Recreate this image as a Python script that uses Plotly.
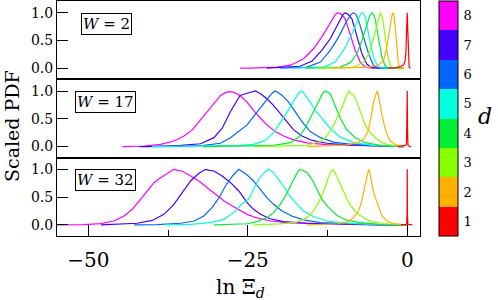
import plotly.graph_objects as go
from plotly.subplots import make_subplots

# ---------------- data ----------------
d_values = [1, 2, 3, 4, 5, 6, 7, 8]
d_colors = ["#ff0000", "#ffb000", "#88ff00", "#00ee33", "#00ffdd", "#0066ff", "#4400ff", "#ff00ff"]
panel_labels = ["2", "17", "32"]
x_tickvals = [-50, -25, 0]
y_tickvals = [0.0, 0.5, 1.0]

# W = 2
x_w2_d1 = [-3.0, -1.6, -1.0, -0.6, -0.35, -0.2, -0.08, 0.0, 0.08, 0.18, 0.3, 0.5]
y_w2_d1 = [0, 0.01, 0.03, 0.06, 0.12, 0.3, 0.75, 1.0, 0.7, 0.15, 0.02, 0]
x_w2_d2 = [-12.0, -8.0, -6.0, -5.0, -4.4, -3.7, -3.2, -2.9, -2.66, -2.4, -2.2, -2.05, -1.88, -1.6, -1.36, -1.0, -0.5]
y_w2_d2 = [0, 0.01, 0.02, 0.04, 0.07, 0.14, 0.38, 0.6, 0.8, 0.95, 1.0, 0.92, 0.74, 0.32, 0.05, 0.01, 0]
x_w2_d3 = [-14.0, -10.0, -8.9, -7.9, -6.6, -5.8, -5.3, -4.75, -4.45, -4.23, -4.0, -3.8, -3.45, -3.08, -2.66, -2.4, -1.5, -0.5]
y_w2_d3 = [0, 0.005, 0.01, 0.04, 0.14, 0.32, 0.53, 0.8, 0.93, 1.0, 0.96, 0.86, 0.56, 0.23, 0.05, 0.01, 0, 0]
x_w2_d4 = [-16.0, -12.0, -10.5, -8.9, -7.9, -7.1, -6.3, -5.9, -5.5, -5.2, -5.0, -4.5, -3.97, -3.45, -2.93, -2.0, -0.5]
y_w2_d4 = [0, 0.005, 0.02, 0.1, 0.26, 0.5, 0.8, 0.94, 1.0, 0.95, 0.86, 0.5, 0.2, 0.04, 0.01, 0, 0]
x_w2_d5 = [-18.0, -15.0, -13.1, -11.3, -10.0, -8.9, -7.9, -7.4, -7.1, -6.8, -6.58, -6.06, -5.54, -5.0, -4.23, -3.0, -0.5]
y_w2_d5 = [0, 0.005, 0.02, 0.11, 0.32, 0.56, 0.83, 0.95, 1.0, 0.97, 0.92, 0.62, 0.32, 0.11, 0.01, 0, 0]
x_w2_d6 = [-20.0, -15.7, -13.6, -12.07, -10.76, -9.45, -8.8, -8.4, -8.0, -7.63, -6.85, -6.06, -5.28, -4.5, -3.0, -0.5]
y_w2_d6 = [0, 0.02, 0.11, 0.32, 0.56, 0.86, 0.97, 1.0, 0.96, 0.86, 0.56, 0.26, 0.05, 0.005, 0, 0]
x_w2_d7 = [-22.0, -16.8, -14.9, -13.4, -12.07, -10.76, -10.1, -9.72, -9.3, -8.67, -7.9, -7.1, -6.32, -5.54, -4.0, -0.5]
y_w2_d7 = [0, 0.035, 0.13, 0.32, 0.53, 0.83, 0.96, 1.0, 0.97, 0.89, 0.56, 0.26, 0.07, 0.01, 0, 0]
x_w2_d8 = [-26.2, -24.6, -20.4, -18.3, -16.25, -14.7, -13.4, -12.07, -11.3, -10.86, -10.4, -9.72, -8.93, -8.15, -7.37, -6.58, -5.8, -4.0, -0.5]
y_w2_d8 = [0, 0, 0.02, 0.055, 0.17, 0.35, 0.56, 0.83, 0.96, 1.0, 0.98, 0.89, 0.62, 0.32, 0.11, 0.02, 0.005, 0, 0]

# W = 17
x_w17_d1 = [-1.5, -0.6, -0.3, -0.12, -0.04, 0.0, 0.04, 0.12, 0.3, 0.6]
y_w17_d1 = [0, 0.01, 0.02, 0.04, 0.4, 1.0, 0.35, 0.02, 0.005, 0]
x_w17_d2 = [-15.7, -12.0, -9.45, -7.9, -6.85, -6.17, -5.7, -5.28, -5.0, -4.75, -4.55, -4.34, -3.97, -3.6, -3.19, -2.66, -1.88, -1.1, -0.5]
y_w17_d2 = [0, 0.01, 0.03, 0.07, 0.13, 0.27, 0.51, 0.8, 0.93, 1.0, 0.94, 0.8, 0.57, 0.39, 0.22, 0.1, 0.04, 0.005, 0]
x_w17_d3 = [-24.0, -20.96, -15.7, -13.6, -12.6, -11.8, -11.0, -10.5, -9.72, -9.45, -9.2, -8.8, -8.4, -7.9, -7.37, -6.58, -5.8, -4.75, -3.71, -2.15, -0.5]
y_w17_d3 = [0, 0.005, 0.02, 0.09, 0.19, 0.33, 0.51, 0.63, 0.86, 0.95, 1.0, 0.95, 0.92, 0.8, 0.63, 0.39, 0.25, 0.13, 0.06, 0.015, 0]
x_w17_d4 = [-32.0, -26.2, -20.96, -18.3, -17.0, -16.0, -15.2, -14.4, -13.6, -13.2, -12.85, -12.4, -12.07, -11.3, -10.5, -9.45, -8.15, -6.58, -4.23, -1.6, -0.5]
y_w17_d4 = [0, 0.005, 0.02, 0.07, 0.17, 0.33, 0.51, 0.71, 0.89, 0.97, 1.0, 0.97, 0.95, 0.74, 0.51, 0.3, 0.16, 0.07, 0.02, 0.002, 0]
x_w17_d5 = [-40.0, -32.0, -26.2, -24.1, -22.26, -20.96, -19.9, -19.1, -18.34, -17.55, -17.1, -16.77, -16.4, -15.99, -15.2, -14.42, -13.38, -12.07, -10.5, -8.4, -5.28, -2.15, -0.5]
y_w17_d5 = [0, 0.01, 0.02, 0.04, 0.11, 0.25, 0.42, 0.57, 0.71, 0.86, 0.95, 0.98, 1.0, 0.92, 0.8, 0.65, 0.51, 0.33, 0.17, 0.07, 0.02, 0.003, 0]
x_w17_d6 = [-40.0, -35.0, -31.9, -29.3, -27.7, -26.2, -25.1, -24.1, -23.0, -21.7, -21.1, -20.7, -20.2, -19.6, -18.6, -17.55, -16.5, -15.2, -13.6, -11.55, -8.4, -4.23, -0.5]
y_w17_d6 = [0, 0.003, 0.02, 0.06, 0.16, 0.3, 0.39, 0.54, 0.71, 0.89, 0.97, 1.0, 0.97, 0.92, 0.8, 0.63, 0.45, 0.27, 0.16, 0.08, 0.035, 0.01, 0]
x_w17_d7 = [-42.0, -40.75, -35.5, -32.4, -30.3, -29.0, -27.7, -26.2, -25.1, -24.3, -23.8, -23.0, -22.0, -20.96, -19.9, -18.86, -17.8, -16.5, -14.9, -12.6, -9.45, -5.28, -0.5]
y_w17_d7 = [0, 0.0, 0.02, 0.05, 0.16, 0.33, 0.63, 0.92, 0.96, 0.99, 1.0, 0.95, 0.86, 0.74, 0.6, 0.45, 0.3, 0.19, 0.11, 0.06, 0.03, 0.01, 0]
x_w17_d8 = [-44.67, -41.27, -38.66, -36.57, -35.0, -33.7, -32.4, -31.35, -30.3, -29.26, -28.5, -27.95, -27.2, -26.2, -25.1, -24.1, -23.0, -22.0, -20.7, -19.4, -17.8, -15.7, -12.6, -8.4, -3.19, -0.5]
y_w17_d8 = [0, 0.01, 0.04, 0.1, 0.19, 0.3, 0.48, 0.63, 0.77, 0.92, 0.97, 0.99, 0.98, 0.92, 0.8, 0.65, 0.51, 0.39, 0.27, 0.19, 0.12, 0.065, 0.035, 0.018, 0.006, 0]

# W = 32
x_w32_d1 = [-1.0, -0.4, -0.1, -0.03, 0.0, 0.03, 0.1, 0.4, 0.8]
y_w32_d1 = [0, 0.005, 0.01, 0.2, 1.0, 0.2, 0.01, 0.005, 0]
x_w32_d2 = [-15.7, -11.0, -9.45, -8.67, -8.15, -7.78, -7.26, -6.85, -6.43, -6.2, -6.06, -5.9, -5.7, -5.38, -5.0, -4.5, -3.97, -3.19, -2.15, -0.58, 0.0]
y_w32_d2 = [0, 0.02, 0.05, 0.11, 0.17, 0.22, 0.37, 0.58, 0.82, 0.95, 1.0, 0.96, 0.82, 0.64, 0.49, 0.31, 0.16, 0.07, 0.025, 0.005, 0]
x_w32_d3 = [-24.1, -19.9, -17.3, -15.7, -14.7, -13.9, -13.2, -12.7, -12.17, -11.9, -11.7, -11.4, -11.13, -10.5, -9.87, -9.2, -8.4, -7.63, -6.58, -5.28, -3.71, -1.6, 0.0]
y_w32_d3 = [0, 0.02, 0.05, 0.13, 0.25, 0.4, 0.58, 0.76, 0.91, 0.97, 1.0, 0.96, 0.88, 0.73, 0.58, 0.4, 0.28, 0.19, 0.11, 0.05, 0.025, 0.006, 0]
x_w32_d4 = [-30.3, -25.1, -23.56, -22.0, -20.96, -19.9, -19.1, -18.34, -17.55, -17.1, -16.77, -16.3, -15.7, -14.94, -14.15, -13.37, -12.33, -11.0, -9.45, -7.37, -4.23, -1.0, 0.0]
y_w32_d4 = [0, 0.02, 0.06, 0.13, 0.22, 0.37, 0.52, 0.7, 0.88, 0.97, 1.0, 0.98, 0.94, 0.82, 0.64, 0.46, 0.31, 0.17, 0.08, 0.04, 0.01, 0.002, 0]
x_w32_d5 = [-38.0, -34.0, -30.8, -28.7, -27.2, -25.9, -24.87, -24.1, -23.3, -22.5, -22.0, -21.7, -21.3, -20.96, -20.17, -19.4, -18.6, -17.55, -16.25, -14.7, -12.6, -9.98, -6.32, -2.0, 0.0]
y_w32_d5 = [0, 0.01, 0.04, 0.1, 0.22, 0.38, 0.46, 0.64, 0.82, 0.93, 0.98, 1.0, 0.97, 0.94, 0.82, 0.7, 0.55, 0.4, 0.25, 0.15, 0.07, 0.035, 0.012, 0.003, 0]
x_w32_d6 = [-42.8, -39.2, -35.5, -33.4, -31.9, -30.6, -29.5, -28.5, -27.4, -26.8, -26.4, -26.0, -25.1, -24.1, -23.0, -22.0, -20.96, -19.6, -18.1, -16.25, -13.6, -9.45, -5.28, 0.0]
y_w32_d6 = [0, 0.005, 0.03, 0.07, 0.16, 0.31, 0.49, 0.7, 0.88, 0.96, 1.0, 0.97, 0.9, 0.79, 0.64, 0.49, 0.37, 0.25, 0.16, 0.09, 0.04, 0.018, 0.006, 0]
x_w32_d7 = [-48.0, -45.97, -42.3, -39.97, -38.14, -36.57, -35.27, -33.96, -32.65, -32.0, -31.6, -31.0, -30.3, -29.0, -27.7, -26.4, -25.1, -24.1, -23.0, -21.5, -19.4, -15.7, -10.5, -5.28, 0.0]
y_w32_d7 = [0, 0.006, 0.03, 0.08, 0.19, 0.37, 0.58, 0.79, 0.93, 0.98, 1.0, 0.98, 0.97, 0.88, 0.76, 0.61, 0.4, 0.28, 0.19, 0.11, 0.06, 0.03, 0.012, 0.004, 0]
x_w32_d8 = [-56.0, -50.7, -48.07, -46.0, -44.4, -43.1, -41.8, -40.75, -39.7, -38.66, -37.6, -37.0, -36.6, -36.0, -35.3, -33.96, -32.65, -31.35, -30.0, -28.7, -27.4, -26.1, -25.1, -23.56, -21.5, -18.3, -12.0, -7.1, 0.0]
y_w32_d8 = [0, 0.006, 0.024, 0.07, 0.16, 0.28, 0.46, 0.61, 0.76, 0.85, 0.93, 0.98, 1.0, 0.98, 0.97, 0.88, 0.79, 0.67, 0.55, 0.43, 0.34, 0.25, 0.19, 0.125, 0.07, 0.035, 0.012, 0.006, 0]

panels = [
    [(x_w2_d1, y_w2_d1), (x_w2_d2, y_w2_d2), (x_w2_d3, y_w2_d3), (x_w2_d4, y_w2_d4),
     (x_w2_d5, y_w2_d5), (x_w2_d6, y_w2_d6), (x_w2_d7, y_w2_d7), (x_w2_d8, y_w2_d8)],
    [(x_w17_d1, y_w17_d1), (x_w17_d2, y_w17_d2), (x_w17_d3, y_w17_d3), (x_w17_d4, y_w17_d4),
     (x_w17_d5, y_w17_d5), (x_w17_d6, y_w17_d6), (x_w17_d7, y_w17_d7), (x_w17_d8, y_w17_d8)],
    [(x_w32_d1, y_w32_d1), (x_w32_d2, y_w32_d2), (x_w32_d3, y_w32_d3), (x_w32_d4, y_w32_d4),
     (x_w32_d5, y_w32_d5), (x_w32_d6, y_w32_d6), (x_w32_d7, y_w32_d7), (x_w32_d8, y_w32_d8)],
]

# ---------------- figure ----------------
FONT = "DejaVu Serif"
W, H = 498, 300
ML, MR, MT, MB = 57, 78, 1, 64
PW, PH = W - ML - MR, H - MT - MB

fig = make_subplots(rows=3, cols=1, shared_xaxes=True, vertical_spacing=0)

for r, curves in enumerate(panels, start=1):
    for i in reversed(range(len(d_values))):
        xs, ys = curves[i]
        fig.add_trace(go.Scatter(x=xs, y=ys, mode="lines",
                                 line=dict(color=d_colors[i], width=1.2),
                                 showlegend=False, hoverinfo="skip"), row=r, col=1)

# colour bar via a dummy trace
n = len(d_values)
cscale = []
for i, c in enumerate(d_colors):
    cscale.append([i / n, c])
    cscale.append([(i + 1) / n, c])
fig.add_trace(go.Scatter(x=[None], y=[None], mode="markers", showlegend=False,
                         marker=dict(color=[1], colorscale=cscale, cmin=0.5, cmax=8.5,
                                     showscale=True,
                                     colorbar=dict(x=(439 - ML) / PW, xanchor="left", xpad=0, ypad=0,
                                                   y=0.5, yanchor="middle", lenmode="pixels", len=PH,
                                                   thickness=19, outlinewidth=1, outlinecolor="black",
                                                   tickvals=d_values, ticktext=[str(v) for v in d_values],
                                                   ticks="outside", ticklen=3, tickcolor="rgba(0,0,0,0)",
                                                   tickfont=dict(family=FONT, size=13, color="black"))),
                         ), row=3, col=1)

for r in (1, 2, 3):
    fig.update_xaxes(range=[-54.9, 2.0], showline=True, mirror=True, linecolor="black", linewidth=1,
                     showgrid=False, zeroline=False, row=r, col=1)
    fig.update_yaxes(range=[-0.2, 1.21], showline=True, mirror=True, linecolor="black", linewidth=1,
                     showgrid=False, zeroline=False, tickvals=y_tickvals, ticktext=["0.0", "0.5", "1.0"],
                     ticks="inside", ticklen=11, tickcolor="black",
                     tickfont=dict(family=FONT, size=14, color="black"), row=r, col=1)

fig.update_xaxes(ticks="", row=1, col=1)
fig.update_xaxes(ticks="", row=2, col=1)
fig.update_xaxes(tickvals=x_tickvals, ticktext=["\u221250", "\u221225", "0"], ticks="inside", ticklen=11,
                 tickcolor="black", tickfont=dict(family=FONT, size=20, color="black"),
                 ticklabelstandoff=6,
                 minor=dict(tickvals=[-37.5, -12.5], ticks="inside", ticklen=6, tickcolor="black"),
                 row=3, col=1)

def px2paper(px, py):
    return (px - ML) / PW, (H - MB - py) / PH

annos = []
for lab, (cx, cy) in zip(panel_labels, [(106, 24), (105.5, 101.5), (105.5, 180)]):
    ax, ay = px2paper(cx, cy)
    annos.append(dict(x=ax, y=ay, xref="paper", yref="paper", xanchor="center", yanchor="middle",
                      text="<i>W</i> = " + lab, showarrow=False, bgcolor="white",
                      bordercolor="black", borderwidth=1, borderpad=1,
                      font=dict(family=FONT, size=15, color="black")))
ax, ay = px2paper(12, 126)
annos.append(dict(x=ax, y=ay, xref="paper", yref="paper", xanchor="center", yanchor="middle",
                  text="Scaled PDF", textangle=-90, showarrow=False,
                  font=dict(family=FONT, size=19, color="black")))
ax, ay = px2paper(240, 288)
annos.append(dict(x=ax, y=ay, xref="paper", yref="paper", xanchor="center", yanchor="middle",
                  text="ln \u039e<sub><i>d</i></sub>", showarrow=False,
                  font=dict(family=FONT, size=20, color="black")))
ax, ay = px2paper(485, 116)
annos.append(dict(x=ax, y=ay, xref="paper", yref="paper", xanchor="center", yanchor="middle",
                  text="<i>d</i>", showarrow=False,
                  font=dict(family=FONT, size=22, color="black")))

fig.update_layout(width=W, height=H, margin=dict(l=ML, r=MR, t=MT, b=MB),
                  paper_bgcolor="white", plot_bgcolor="white", annotations=annos,
                  font=dict(family=FONT, color="black"))

fig.write_html("out.html")
